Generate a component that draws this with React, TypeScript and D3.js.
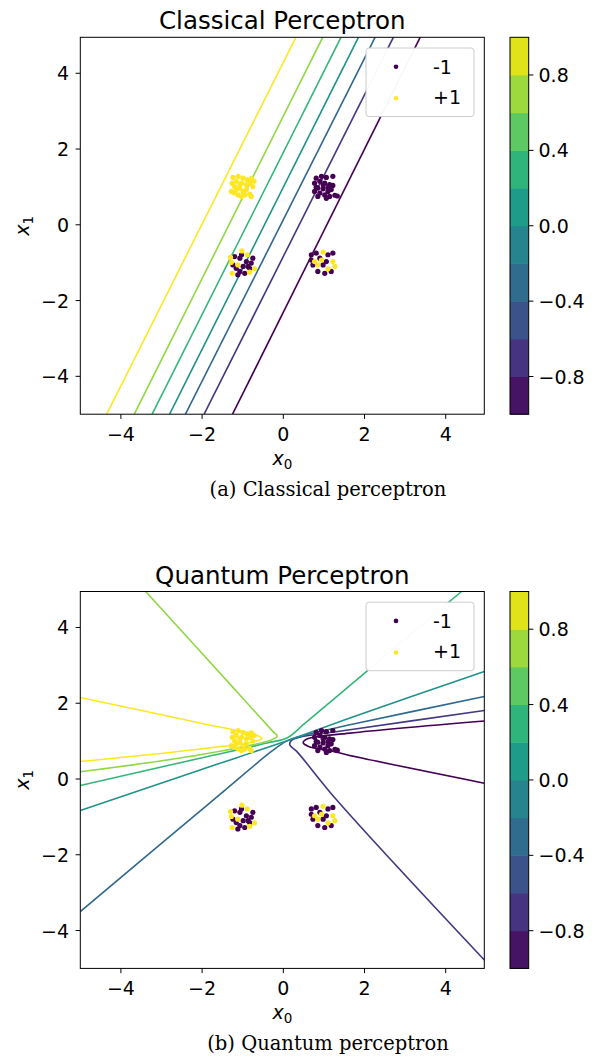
import React from 'react';
import * as d3 from 'd3';

// axis extents (grid runs -5 .. 4.95)
const X_DOMAIN: [number, number] = [-5, 4.95];
const Y_DOMAIN: [number, number] = [-5, 4.95];
const axisTicks = [-4, -2, 0, 2, 4];
const cbarTicks = [-0.8, -0.4, 0, 0.4, 0.8];
const cbarBounds = [-1, -0.8, -0.6, -0.4, -0.2, 0, 0.2, 0.4, 0.6, 0.8, 1];
const lineLevels = [-0.75, -0.5, -0.25, 0, 0.25, 0.5, 0.75];

// samples labelled -1
const negPoints: [number, number][] = [
  [0.81, 1.23], [0.94, 1.28], [1.06, 1.25], [1.22, 1.28], [0.77, 1.10], [0.90, 1.15],
  [1.02, 1.10], [1.14, 1.06], [1.22, 1.04], [0.85, 0.97], [0.98, 0.95], [1.10, 0.99],
  [0.77, 0.88], [0.90, 0.84], [1.02, 0.79], [1.14, 0.75], [1.27, 0.78], [0.85, 0.75],
  [1.10, 0.88], [0.98, 1.06], [1.18, 0.93], [0.81, 0.99], [1.06, 0.70], [1.33, 0.76],
  [-1.20, -0.84], [-1.07, -0.88], [-0.91, -0.97], [-0.79, -1.01], [-1.16, -1.15],
  [-0.99, -1.10], [-0.87, -1.10], [-1.07, -1.23], [-0.95, -1.28], [-0.75, -0.88],
  [-1.24, -1.06], [-1.03, -0.79], [-0.83, -1.15], [-1.12, -1.32],
  [0.69, -0.79], [0.81, -0.75], [1.10, -0.79], [1.22, -0.75], [0.73, -1.06], [0.85, -1.23],
  [0.98, -1.06], [1.06, -0.97], [1.18, -1.23], [1.02, -1.28], [0.90, -0.88], [0.69, -0.93],
];

// samples labelled +1
const posPoints: [number, number][] = [
  [-1.24, 1.25], [-1.11, 1.28], [-0.99, 1.23], [-0.79, 1.22], [-0.72, 1.15], [-1.26, 1.10],
  [-1.16, 1.15], [-1.03, 1.10], [-0.91, 1.06], [-0.83, 1.10], [-0.75, 1.01], [-1.28, 0.88],
  [-1.16, 0.93], [-1.07, 0.97], [-0.99, 0.88], [-0.91, 0.93], [-0.83, 0.81], [-0.79, 0.75],
  [-1.03, 0.75], [-1.11, 0.79], [-1.20, 0.84], [-0.95, 0.79], [-1.07, 1.06], [-0.89, 1.19],
  [-1.20, 1.01],
  [-1.02, -0.69], [-1.28, -0.99], [-1.26, -1.28], [-0.71, -1.16], [-0.89, -0.79],
  [-1.12, -1.06], [-0.83, -1.25], [-1.30, -0.86],
  [0.98, -0.72], [0.77, -0.97], [0.85, -1.06], [1.22, -0.97], [1.27, -1.10], [1.10, -1.16],
  [0.94, -0.93],
];

// classical decision contours, dark purple -> yellow
const classicalLines: [number, number][][] = [
  [[-1.25, -5], [3.37, 4.95]],
  [[-1.95, -5], [2.71, 4.95]],
  [[-2.41, -5], [2.26, 4.95]],
  [[-2.80, -5], [1.85, 4.95]],
  [[-3.23, -5], [1.42, 4.95]],
  [[-3.67, -5], [0.97, 4.95]],
  [[-4.35, -5], [0.31, 4.95]],
];

// quantum contours, dark purple -> yellow
const quantumLines: [number, number][][] = [
  [[4.95, 1.53], [1.64, 1.21], [0.6, 1.06], [0.49, 0.96], [0.62, 0.86], [1.23, 0.73], [1.56, 0.64], [4.95, -0.11]],
  [[4.95, 1.81], [1.64, 1.30], [0.4, 1.1], [0.2, 1.02], [0.16, 0.9], [0.33, 0.73], [1.31, -0.55], [4.95, -4.78]],
  [[-5, -3.5], [-1.72, -0.55], [-0.3, 0.72], [0.08, 1.0], [0.5, 1.15], [1.64, 1.43], [4.95, 2.18]],
  [[-5, -0.83], [-2.05, 0.24], [0.2, 1.05], [1.64, 1.61], [4.95, 2.84]],
  [[-5, -0.17], [-2.05, 0.55], [-0.4, 0.95], [0.1, 1.09], [0.5, 1.44], [1.52, 2.36], [4.39, 4.95]],
  [[-3.39, 4.95], [-1.19, 2.36], [-0.27, 1.27], [-0.15, 1.13], [-0.3, 1.03], [-2.05, 0.64], [-5, 0.19]],
  [[-5, 2.15], [-2.05, 1.48], [-0.65, 1.15], [-0.53, 1.08], [-0.6, 1.02], [-2.05, 0.79], [-5, 0.46]],
];

const SANS = 'DejaVu Sans, sans-serif';
const PURPLE = '#440154';
const YELLOW = '#fde725';

const Panel = ({ dy, id, title, caption, lines }) => {
  const x = d3.scaleLinear().domain(X_DOMAIN).range([80.3, 484.3]);
  const y = d3.scaleLinear().domain(Y_DOMAIN).range([dy + 414.2, dy + 37.3]);
  const cb = d3.scaleLinear().domain([-1, 1]).range([dy + 414.2, dy + 37.3]);
  const lineColor = d3.scaleSequential(d3.interpolateViridis).domain([lineLevels[0], lineLevels[lineLevels.length - 1]]);
  const path = d3.line<[number, number]>()
    .x(d => x(d[0]))
    .y(d => y(d[1]))
    .curve(d3.curveCatmullRom.alpha(0.5));
  const fmtAxis = d3.format('d');
  const fmtCb = d3.format('.1f');
  const [x0, x1] = x.range();
  const [yb, yt] = y.range();
  const cbX = 510;
  const cbW = 18.7;

  return (
    <g>
      <defs>
        <clipPath id={id}>
          <rect x={x0} y={yt} width={x1 - x0} height={yb - yt} />
        </clipPath>
      </defs>
      <text x={(x0 + x1) / 2} y={dy + 29.3} textAnchor="middle" fontFamily={SANS} fontSize={24.5}>{title}</text>

      <g clipPath={`url(#${id})`}>
        {lines.map((pts, i) => (
          <path key={i} d={path(pts)} fill="none" stroke={lineColor(lineLevels[i])} strokeWidth={1.6} />
        ))}
        {negPoints.map((p, i) => (
          <circle key={'n' + i} cx={x(p[0])} cy={y(p[1])} r={2.6} fill={PURPLE} />
        ))}
        {posPoints.map((p, i) => (
          <circle key={'p' + i} cx={x(p[0])} cy={y(p[1])} r={2.6} fill={YELLOW} />
        ))}
      </g>

      <rect x={x0} y={yt} width={x1 - x0} height={yb - yt} fill="none" stroke="#000" strokeWidth={1} />

      {axisTicks.map(t => (
        <g key={'x' + t}>
          <line x1={x(t)} x2={x(t)} y1={yb} y2={yb + 4.7} stroke="#000" />
          <text x={x(t)} y={yb + 26.5} textAnchor="middle" fontFamily={SANS} fontSize={19}>{fmtAxis(t)}</text>
        </g>
      ))}
      {axisTicks.map(t => (
        <g key={'y' + t}>
          <line x1={x0 - 4.7} x2={x0} y1={y(t)} y2={y(t)} stroke="#000" />
          <text x={69} y={y(t) + 7} textAnchor="end" fontFamily={SANS} fontSize={19}>{fmtAxis(t)}</text>
        </g>
      ))}

      <text x={(x0 + x1) / 2} y={yb + 51} textAnchor="middle" fontFamily={SANS} fontSize={19}>
        <tspan fontStyle="italic">x</tspan><tspan fontSize={13.5} dy={4}>0</tspan>
      </text>
      <text transform={`translate(28.5,${(yb + yt) / 2}) rotate(-90)`} textAnchor="middle" fontFamily={SANS} fontSize={19}>
        <tspan fontStyle="italic">x</tspan><tspan fontSize={13.5} dy={4}>1</tspan>
      </text>

      {/* legend */}
      <rect x={366} y={dy + 48} width={108} height={68.5} rx={3} fill="#fff" fillOpacity={0.97} stroke="#cccccc" strokeWidth={1} />
      <circle cx={396} cy={dy + 66.7} r={2.3} fill={PURPLE} />
      <text x={433} y={dy + 74} fontFamily={SANS} fontSize={19}>-1</text>
      <circle cx={396} cy={dy + 98.3} r={2.3} fill={YELLOW} />
      <text x={433} y={dy + 104} fontFamily={SANS} fontSize={19}>+1</text>

      {/* colorbar */}
      {d3.range(cbarBounds.length - 1).map(i => (
        <rect key={'cb' + i} x={cbX} y={cb(cbarBounds[i + 1])} width={cbW}
          height={cb(cbarBounds[i]) - cb(cbarBounds[i + 1]) + 0.5}
          fill={d3.interpolateViridis((i + 0.5) / (cbarBounds.length - 1))} />
      ))}
      <rect x={cbX} y={yt} width={cbW} height={yb - yt} fill="none" stroke="#000" strokeWidth={1} />
      {cbarTicks.map(t => (
        <g key={'c' + t}>
          <line x1={cbX + cbW} x2={cbX + cbW + 4.7} y1={cb(t)} y2={cb(t)} stroke="#000" />
          <text x={538.5} y={cb(t) + 7} fontFamily={SANS} fontSize={19}>{fmtCb(t)}</text>
        </g>
      ))}

      <text x={328} y={dy + 495.8} textAnchor="middle" fontFamily="DejaVu Serif, serif" fontSize={19.5}>{caption}</text>
    </g>
  );
};

export default function App() {
  return (
    <svg width={598} height={1057} style={{ position: 'absolute', left: 0, top: 0, background: '#fff' }}>
      <rect width={598} height={1057} fill="#fff" />
      <Panel dy={0} id="clipA" title="Classical Perceptron" caption="(a) Classical perceptron" lines={classicalLines} />
      <Panel dy={554.2} id="clipB" title="Quantum Perceptron" caption="(b) Quantum perceptron" lines={quantumLines} />
    </svg>
  );
}
